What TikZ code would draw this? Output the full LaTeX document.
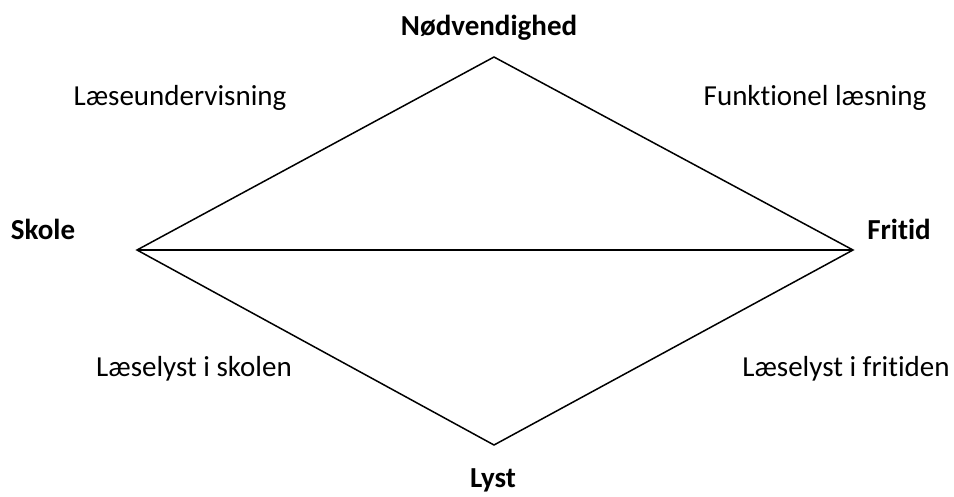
\documentclass[tikz,border=0pt]{standalone}
\usepackage{fontspec}
\setmainfont[Ligatures=NoCommon]{Carlito}
\begin{document}
\begin{tikzpicture}[x=1pt,y=-1pt,
  lbl/.style={inner sep=0pt,anchor=base,font=\fontsize{29}{34}\selectfont},
  blbl/.style={lbl,font=\fontsize{29}{34}\selectfont\bfseries},
  edge/.style={line width=1.5pt}]
\useasboundingbox (0,0) rectangle (954,496);
\coordinate (T) at (494,57);
\coordinate (L) at (137,250);
\coordinate (R) at (853,250);
\coordinate (B) at (494,445);
\draw[edge] (L) -- (T) -- (R) -- (B) -- cycle;
\draw[edge] (L) -- (R);
\node[blbl] (n1) at (489,35) {Nødvendighed};
\node[blbl] (n2) at (43,239) {Skole};
\node[blbl] (n3) at (899,239) {Fritid};
\node[blbl] (n4) at (493,487) {Lyst};
\node[lbl] (a) at (180,105) {Læseundervisning};
\node[lbl] (b) at (815,105) {Funktionel læsning};
\node[lbl] (c) at (194,376) {Læselyst i skolen};
\node[lbl] (d) at (846,376) {Læselyst i fritiden};
\end{tikzpicture}
\end{document}
